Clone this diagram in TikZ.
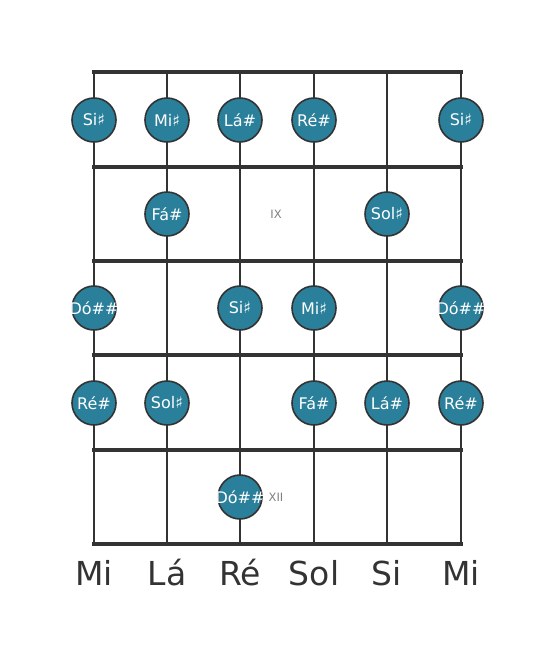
\documentclass[tikz,border=0pt]{standalone}
\usepackage{fontspec}
\setmainfont{DejaVu Sans}
\definecolor{notefill}{HTML}{2A7F9B}
\definecolor{linecol}{HTML}{333333}
\definecolor{fretlbl}{HTML}{808080}
\tikzset{
  stringline/.style={draw=linecol, line width=2.4pt},
  fretline/.style={draw=linecol, line width=3.6pt, line cap=rect},
  notetext/.style={text=white, inner sep=0pt, font=\fontsize{16}{18}\selectfont},
  note/.style={circle, draw=linecol, line width=1.6pt, fill=notefill, minimum size=44pt, inner sep=0pt, label={[notetext]center:#1}},
  fretnum/.style={text=fretlbl, font=\fontsize{11.5}{13}\selectfont},
  strname/.style={text=linecol, anchor=base, font=\fontsize{33}{38}\selectfont}
}
\begin{document}
\begin{tikzpicture}[x=1pt,y=-1pt]
\useasboundingbox (0,0) rectangle (555,656);
% string coordinates
\foreach \n/\x in {1/94,2/167,3/240,4/314,5/387,6/461}{
  \coordinate (t\n) at (\x,72);
  \coordinate (b\n) at (\x,544);
}
\foreach \n in {1,...,6}{ \draw[stringline] (t\n) -- (b\n); }
% frets
\foreach \n/\y in {0/72,1/167,2/261,3/355,4/450,5/544}{
  \coordinate (fl\n) at (94,\y);
  \coordinate (fr\n) at (461,\y);
  \draw[fretline] (fl\n) -- (fr\n);
}
% fret labels
\node[fretnum] (ix) at (276,214) {IX};
\node[fretnum] (xii) at (276,497) {XII};
% notes
\node[note={Si♯}] (n11) at (94,120) {};
\node[note={Mi♯}] (n12) at (167,120) {};
\node[note={Lá\#}] (n13) at (240,120) {};
\node[note={Ré\#}] (n14) at (314,120) {};
\node[note={Si♯}] (n16) at (461,120) {};
\node[note={Fá\#}] (n22) at (167,214) {};
\node[note={Sol♯}] (n25) at (387,214) {};
\node[note={Dó\#\#}] (n31) at (94,308) {};
\node[note={Si♯}] (n33) at (240,308) {};
\node[note={Mi♯}] (n34) at (314,308) {};
\node[note={Dó\#\#}] (n36) at (461,308) {};
\node[note={Ré\#}] (n41) at (94,403) {};
\node[note={Sol♯}] (n42) at (167,403) {};
\node[note={Fá\#}] (n44) at (314,403) {};
\node[note={Lá\#}] (n45) at (387,403) {};
\node[note={Ré\#}] (n46) at (461,403) {};
\node[note={Dó\#\#}] (n53) at (240,497) {};
% string names
\node[strname] (s1) at (94,585) {Mi};
\node[strname] (s2) at (167,585) {Lá};
\node[strname] (s3) at (240,585) {Ré};
\node[strname] (s4) at (314,585) {Sol};
\node[strname] (s5) at (387,585) {Si};
\node[strname] (s6) at (461,585) {Mi};
\end{tikzpicture}
\end{document}
